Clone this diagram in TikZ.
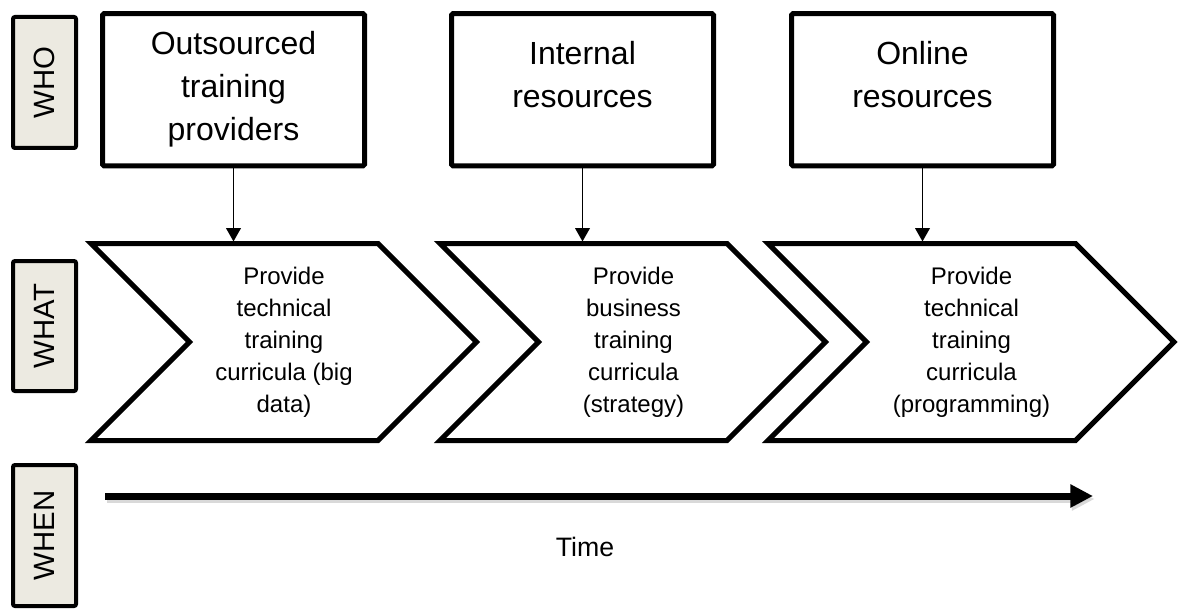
\documentclass[tikz,border=0pt]{standalone}
\usepackage{fontspec}
\setmainfont{Liberation Sans}
\usepackage{xcolor}
\usetikzlibrary{arrows.meta,positioning}
\definecolor{tagfill}{RGB}{236,234,225}

\begin{document}
\begin{tikzpicture}[
    x=0.75pt,
    y=-0.75pt,
    >=Latex,
    tag/.style={draw=black, line width=3pt, rounded corners=1.5pt, fill=tagfill, rotate=90, minimum height=47.25pt, inner sep=0pt, font=\fontsize{22}{26}\selectfont},
    srcbox/.style={draw=black, line width=3.75pt, rounded corners=1pt, minimum width=196.5pt, minimum height=114pt, inner sep=0pt},
    srctext/.style={align=center, font=\fontsize{24}{32.25}\selectfont},
    chev/.style={draw=black, line width=3.75pt, fill=white, line join=miter},
    stagetext/.style={align=center, font=\fontsize{18}{24}\selectfont},
    feed/.style={->, line width=1pt, -{Triangle[length=10pt, width=11pt]}},
    timeline/.style={line width=5.25pt, -{Triangle[length=17pt, width=16.5pt]}}
]
\useasboundingbox (0,0) rectangle (1179,610);
\node[tag, minimum width=98.25pt] (who) at (44.5,82.5) {WHO};
\node[tag, minimum width=97.5pt] (what) at (44.5,326) {WHAT};
\node[tag, minimum width=105.75pt] (when) at (44.5,535.5) {WHEN};
\node[srcbox] (src1) at (233.5,89.75) {};
\node[srcbox] (src2) at (582.5,89.75) {};
\node[srcbox] (src3) at (922.5,89.75) {};
\node[srctext] (src1text) at (233.5,89) {Outsourced\\training\\providers};
\node[srctext] (src2text) at (582.5,75) {Internal\\resources};
\node[srctext] (src3text) at (922.5,75) {Online\\resources};
\draw[chev] (91,243.5) -- (378,243.5) -- (476.5,342) -- (378,440.5) -- (91,440.5) -- (189.5,342) -- cycle;
\draw[chev] (440,243.5) -- (727,243.5) -- (825.5,342) -- (727,440.5) -- (440,440.5) -- (538.5,342) -- cycle;
\draw[chev] (768,243.5) -- (1075.5,243.5) -- (1174,342) -- (1075.5,440.5) -- (768,440.5) -- (866.5,342) -- cycle;
\node[stagetext] (stage1) at (284,342) {Provide\\technical\\training\\curricula (big\\data)};
\node[stagetext] (stage2) at (633.5,342) {Provide\\business\\training\\curricula\\(strategy)};
\node[stagetext] (stage3) at (971.5,342) {Provide\\technical\\training\\curricula\\(programming)};
\coordinate (lane) at (0,241.5);
\draw[feed] (src1.south) -- (src1.south |- lane);
\draw[feed] (src2.south) -- (src2.south |- lane);
\draw[feed] (src3.south) -- (src3.south |- lane);
\coordinate (tstart) at (105,496);
\coordinate (tend) at (1093,496);
\draw[timeline, black!25, opacity=0.6] ([shift={(1.5,3)}]tstart) -- ([shift={(1.5,3)}]tend);
\draw[timeline] (tstart) -- (tend);
\node[font=\fontsize{20}{24}\selectfont] (time) at (585,547) {Time};
\end{tikzpicture}
\end{document}
